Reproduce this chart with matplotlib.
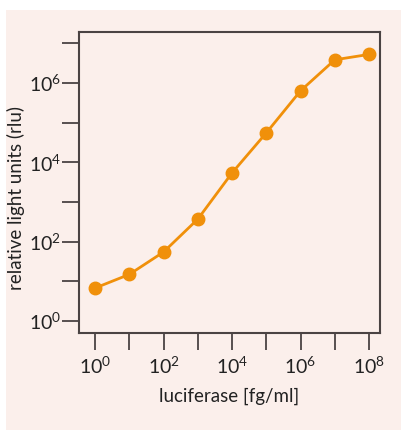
import numpy as np
import matplotlib.pyplot as plt
from matplotlib.patches import Rectangle

plt.rcParams['font.family'] = ['Lato', 'DejaVu Sans']
plt.rcParams['mathtext.fontset'] = 'custom'
plt.rcParams['mathtext.rm'] = 'Lato'

# luciferase concentration (fg/ml) vs. relative light units
conc = [1e0, 1e1, 1e2, 1e3, 1e4, 1e5, 1e6, 1e7, 1e8]
rlu = [6.8, 15, 55, 370, 5400, 55000, 6.3e5, 3.8e6, 5.2e6]

xticks = [10.0**k for k in range(0, 9)]
yticks = [10.0**k for k in range(0, 8)]

pink = '#fbefeb'
orange = '#f0900a'
dark = '#4a4343'

fig = plt.figure(figsize=(4.02, 4.30), dpi=100, facecolor='white')
bg = Rectangle((6/402, 0), 396/402, 420/430, transform=fig.transFigure,
               facecolor=pink, edgecolor='none', zorder=-10)
fig.add_artist(bg)

ax = fig.add_axes([79/402, 97/430, 301/402, 301/430])
ax.set_zorder(1)
ax.set_facecolor(pink)
ax.plot(conc, rlu, color=orange, lw=2, marker='o', ms=9, zorder=3)

ax.set_xscale('log')
ax.set_yscale('log')
ax.set_xlim(10**-0.47, 10**8.32)
ax.set_ylim(10**-0.3, 10**7.28)

ax.set_xticks(xticks)
ax.set_xticklabels([r'$\mathregular{10^{%d}}$' % k if k % 2 == 0 else '' for k in range(0, 9)])
ax.set_yticks(yticks)
ax.set_yticklabels([r'$\mathregular{10^{%d}}$' % k if k % 2 == 0 else '' for k in range(0, 8)])
ax.minorticks_off()

ax.tick_params(direction='out', length=12, width=1.3, color=dark, labelsize=14,
               labelcolor='#222222')
ax.tick_params(axis='y', pad=1)
ax.tick_params(axis='x', pad=4)
for s in ax.spines.values():
    s.set_color(dark)
    s.set_linewidth(1.5)

ax.set_xlabel('luciferase [fg/ml]', fontsize=13.5, color='#222222', labelpad=8)
ax.set_ylabel('relative light units (rlu)', fontsize=13.5, color='#222222')
ax.yaxis.set_label_coords(-0.18, 0.45)

fig.savefig('out.png', dpi=100, facecolor=fig.get_facecolor())
